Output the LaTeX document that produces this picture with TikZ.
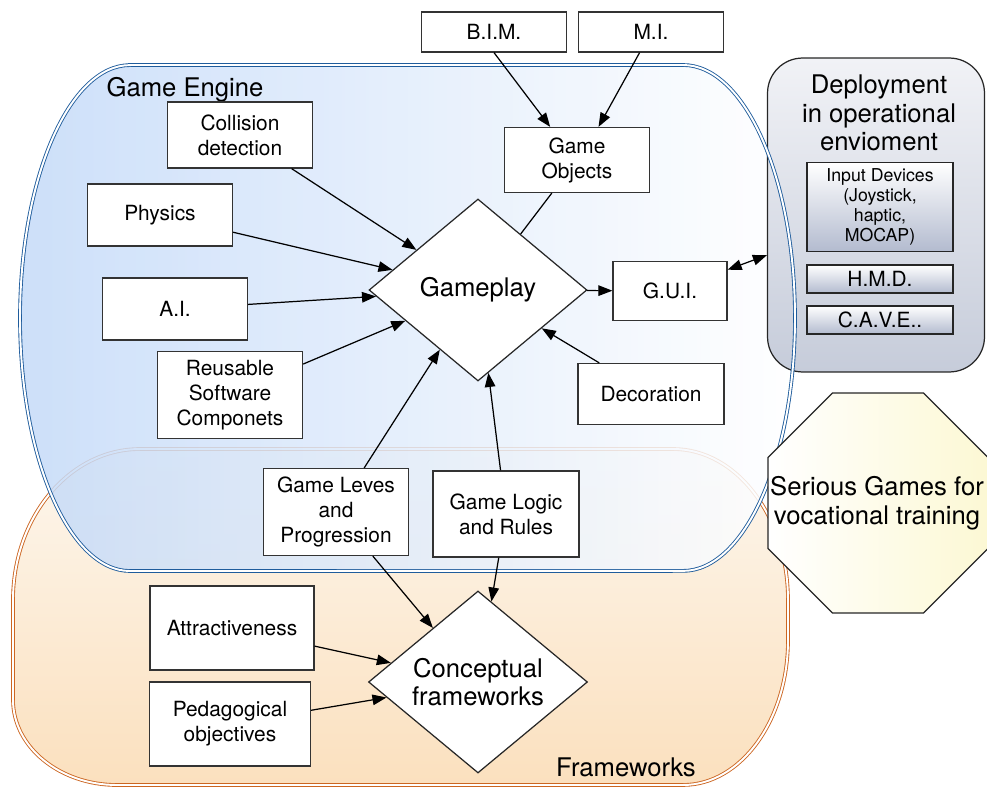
\documentclass[tikz,border=0pt]{standalone}
\usepackage{fontspec}
\setmainfont{TeX Gyre Heros}
\usetikzlibrary{arrows.meta,shapes,positioning}
\definecolor{engineblue}{HTML}{1F5C9C}
\definecolor{engineshade}{HTML}{C4DAF8}
\definecolor{frameorange}{HTML}{CC6622}
\definecolor{frametop}{HTML}{FDF7EE}
\definecolor{framebottom}{HTML}{FBE0BE}
\definecolor{deploytop}{HTML}{F1F2F6}
\definecolor{deploybottom}{HTML}{C6CCDA}
\definecolor{devicebottom}{HTML}{B3BBCF}
\definecolor{goalyellow}{HTML}{FCF8D4}
\tikzset{%
    component/.style={%
        rectangle, draw=black!80, fill=white, minimum width=2.9cm, minimum height=1.24cm, align=center, font=\fontsize{11.9}{14.2}\selectfont
    },
    hub/.style={%
        diamond, aspect=1.2, draw=black!85, fill=white, minimum width=4.36cm, minimum height=3.64cm, inner sep=0pt, align=center, font=\fontsize{14.6}{16.2}\selectfont
    },
    region_label/.style={%
        align=center, font=\fontsize{14.6}{16.4}\selectfont
    },
    engine/.style={%
        left color=engineshade, right color=white, fill opacity=0.85
    },
    engine_border/.style={%
        draw=engineblue, double=white, line width=0.5pt, double distance=1.1pt
    },
    frameworks/.style={%
        top color=frametop, bottom color=framebottom, draw=frameorange, double=white, line width=0.5pt, double distance=1.1pt
    },
    deployment/.style={%
        rectangle, rounded corners=20pt, draw=black!85, top color=deploytop, bottom color=deploybottom, minimum width=4.34cm, minimum height=6.28cm
    },
    device/.style={%
        rectangle, draw=black!85, top color=white, bottom color=devicebottom, minimum width=2.92cm, minimum height=0.56cm, inner sep=1pt, align=center, font=\fontsize{11.9}{14}\selectfont
    },
    goal/.style={%
        regular polygon, regular polygon sides=8, draw=black!85, left color=white, right color=goalyellow, minimum size=4.76cm, inner sep=0pt
    },
}
\begin{document}
\begin{tikzpicture}[x=0.02cm, y=-0.02cm, line width=0.7pt, >={Triangle[length=8pt,width=6pt]}]
  \useasboundingbox (0,0) rectangle (987,787);
  % the two regions
  \draw[frameworks] (140,449) -- (673,449) arc[start angle=90, end angle=0, x radius=2.3cm, y radius=3.02cm]
    -- (788,640) arc[start angle=0, end angle=-90, x radius=2.1cm, y radius=2.9cm]
    -- (117,785) arc[start angle=270, end angle=180, x radius=2.08cm, y radius=1.7cm]
    -- (13,600) arc[start angle=180, end angle=90, x radius=2.54cm, y radius=3.02cm] -- cycle;
  \path[engine, save path=\enginepath] (130,65) -- (683,65) arc[start angle=90, end angle=-90, x radius=2.24cm, y radius=5.06cm]
    -- (130,571) arc[start angle=270, end angle=90, x radius=2.2cm, y radius=5.06cm] -- cycle;
  % deployment
  \node[deployment] (deploy) at (876,215) {};
  \node[region_label] (deploytitle) at (879,113) {Deployment\\in operational\\envioment};
  \node[device, minimum height=1.78cm, font=\fontsize{10.1}{11.4}\selectfont] (devices) at (880,207) {Input Devices\\(Joystick,\\haptic,\\MOCAP)};
  \node[device] (hmd) at (880,279) {H.M.D.};
  \node[device] (cave) at (880,320) {C.A.V.E..};
  \draw[engine_border, use path=\enginepath];
  \node[region_label] (enginelabel) at (185,90) {Game Engine};
  \node[region_label] (frameworkslabel) at (626,767) {Frameworks};
  % game engine
  \node[component, minimum height=0.8cm] (bim) at (494,32) {B.I.M.};
  \node[component, minimum height=0.8cm] (mi) at (651,32) {M.I.};
  \node[component, minimum height=1.3cm] (objects) at (577,160) {Game\\Objects};
  \node[component, minimum height=1.32cm] (collision) at (240,135) {Collision\\detection};
  \node[component] (physics) at (160,215) {Physics};
  \node[component] (ai) at (175,309) {A.I.};
  \node[component, minimum height=1.74cm] (reusable) at (230,395) {Reusable\\Software\\Componets};
  \node[hub] (gameplay) at (478,290) {Gameplay};
  \node[component, minimum width=2.28cm, minimum height=1.18cm] (gui) at (670,291) {G.U.I.};
  \node[component, minimum width=2.92cm, minimum height=1.22cm] (decoration) at (651,394) {Decoration};
  \node[component, minimum height=1.74cm] (levels) at (336,512) {Game Leves\\and\\Progression};
  \node[component, minimum width=2.92cm, minimum height=1.72cm] (logic) at (506,514) {Game Logic\\and Rules};
  % frameworks
  \node[component, minimum width=3.28cm, minimum height=1.68cm] (attract) at (232,628) {Attractiveness};
  \node[component, minimum width=3.22cm, minimum height=1.68cm] (pedagogy) at (230,724) {Pedagogical\\objectives};
  \node[hub, minimum width=4.38cm] (conceptual) at (478,682) {Conceptual\\frameworks};
  \node[goal] (goal) at (878,503) {};
  \node[region_label] (goaltext) at (877,503) {Serious Games for\\vocational training};
  % connectors
  \draw [->] (bim.south) -- (objects.129);
  \draw [->] (mi) -- (objects.57);
  \draw (objects) -- (gameplay);
  \draw [->] (collision) -- (gameplay);
  \draw [->] (physics) -- (gameplay);
  \draw [->] (ai) -- (gameplay);
  \draw [->] (reusable) -- (gameplay);
  \draw [->] (levels) -- (gameplay);
  \draw [->] (logic) -- (gameplay);
  \draw [->] (decoration) -- (gameplay);
  \draw [->] (gameplay) -- (gui);
  \draw [<->] (gui) -- (deploy);
  \draw [->] (levels) -- (conceptual);
  \draw [->] (logic) -- (conceptual);
  \draw [->] (attract) -- (conceptual);
  \draw [->] (pedagogy) -- (conceptual);
\end{tikzpicture}
\end{document}
